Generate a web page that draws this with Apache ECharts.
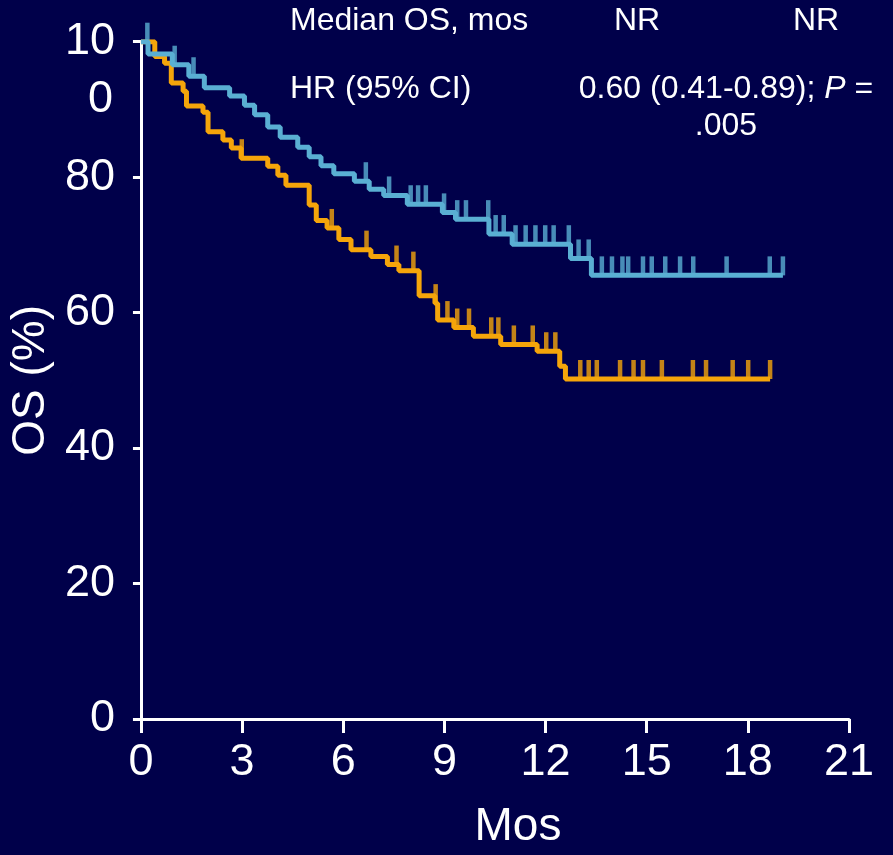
<!DOCTYPE html>
<html><head><meta charset="utf-8">
<script src="https://cdn.jsdelivr.net/npm/echarts@6/dist/echarts.min.js"></script>
<style>html,body{margin:0;padding:0;background:#00004A;}#c{width:893px;height:855px;}</style>
</head><body><div id="c"></div>
<script>
// ---- data ----
const xTickValues = [0, 3, 6, 9, 12, 15, 18, 21];
const yTickValues = [0, 20, 40, 60, 80, 100];

// Blue arm: times of drops (months) and survival level after each drop (%)
const blueTimes = [0, 0.21, 0.93, 1.42, 1.88, 2.63, 3.07, 3.37, 3.76, 4.13, 4.65, 4.99, 5.34, 5.72, 6.33, 6.77, 7.2, 7.9, 8.94, 9.33, 10.32, 11.01, 12.74, 13.36];
const blueSurv  = [100, 98.2, 96.6, 94.9, 93.2, 92.0, 90.6, 89.2, 87.4, 85.9, 84.4, 83.0, 81.7, 80.5, 79.4, 78.2, 77.3, 76.0, 74.8, 73.8, 71.6, 70.1, 68.0, 65.5];
const blueEnd = 19.04;
const blueCensor = [0.19, 1.0, 1.56, 6.67, 7.36, 8.0, 8.22, 8.45, 8.99, 9.38, 9.64, 10.3, 10.52, 10.76, 11.11, 11.41, 11.70, 11.99, 12.24, 12.69, 12.98, 13.28, 13.67, 13.97, 14.28, 14.45, 14.89, 15.15, 15.55, 15.99, 16.38, 17.37, 18.65, 19.04];

// Orange arm
const orangeTimes = [0, 0.41, 0.70, 0.90, 1.25, 1.35, 1.84, 1.99, 2.43, 2.68, 2.97, 3.76, 4.06, 4.30, 4.99, 5.20, 5.52, 5.87, 6.23, 6.82, 7.31, 7.65, 8.25, 8.72, 8.80, 9.28, 9.86, 10.67, 11.75, 12.42, 12.59];
const orangeSurv  = [100, 97.8, 96.8, 93.9, 92.7, 90.5, 89.6, 86.7, 85.5, 84.3, 82.8, 81.6, 80.3, 78.8, 75.9, 73.6, 72.5, 70.8, 69.3, 68.3, 67.1, 66.2, 62.5, 61.4, 58.9, 57.8, 56.5, 55.3, 54.3, 52.1, 50.2];
const orangeEnd = 18.66;
const orangeCensor = [2.99, 5.66, 6.69, 7.58, 8.08, 8.74, 9.09, 9.38, 9.73, 10.39, 10.6, 11.06, 11.62, 12.02, 12.29, 13.03, 13.28, 13.52, 14.21, 14.61, 14.89, 15.45, 16.37, 16.76, 17.55, 18.01, 18.66];

// ---- helpers ----
function stepData(times, surv, end) {
  const d = times.map((t, i) => [t, surv[i]]);
  d.push([end, surv[surv.length - 1]]);
  return d;
}
function levelAt(times, surv, t) {
  let s = surv[0];
  for (let i = 0; i < times.length; i++) if (times[i] <= t) s = surv[i];
  return s;
}
function censorData(times, surv, cens) {
  return cens.map(t => [t, levelAt(times, surv, t)]);
}

const FONT = '"Liberation Sans", Arial, sans-serif';
const BLUE = '#5AAFD3';
const ORANGE = '#F5A50A';
const WHITE = '#FFFFFF';

const chart = echarts.init(document.getElementById('c'), null, {renderer: 'canvas'});
chart.setOption({
  backgroundColor: '#00004A',
  animation: false,
  grid: {left: 139.5, right: 44, top: 41.7, bottom: 129, containLabel: false},
  xAxis: {
    type: 'value', min: xTickValues[0], max: xTickValues[xTickValues.length - 1],
    interval: xTickValues[1] - xTickValues[0],
    axisLine: {show: true, onZero: false, lineStyle: {color: WHITE, width: 3}},
    axisTick: {show: true, length: 14, lineStyle: {color: WHITE, width: 3}},
    axisLabel: {color: WHITE, fontSize: 45, fontFamily: FONT, margin: 21},
    splitLine: {show: false},
    name: 'Mos', nameLocation: 'middle', nameGap: 85,
    nameTextStyle: {color: WHITE, fontSize: 46, fontFamily: FONT, padding: [0, 0, 0, 46]}
  },
  yAxis: {
    type: 'value', min: yTickValues[0], max: yTickValues[yTickValues.length - 1],
    interval: yTickValues[1] - yTickValues[0],
    axisLine: {show: true, onZero: false, lineStyle: {color: WHITE, width: 3}},
    axisTick: {show: true, length: 8, lineStyle: {color: WHITE, width: 3}},
    axisLabel: {color: WHITE, fontSize: 45, fontFamily: FONT, margin: 26,
      formatter: v => (v === 100 ? '10' : String(v))},
    splitLine: {show: false},
    name: 'OS (%)', nameLocation: 'middle', nameGap: 75,
    nameTextStyle: {color: WHITE, fontSize: 46, fontFamily: FONT}
  },
  series: [
    {type: 'line', step: 'end', data: stepData(orangeTimes, orangeSurv, orangeEnd),
      showSymbol: false, silent: true, lineStyle: {color: ORANGE, width: 5}, z: 2},
    {type: 'scatter', data: censorData(orangeTimes, orangeSurv, orangeCensor),
      symbol: 'rect', symbolSize: [4.5, 19], symbolOffset: [0, -9.5], silent: true,
      itemStyle: {color: ORANGE}, z: 2},
    {type: 'line', step: 'end', data: stepData(blueTimes, blueSurv, blueEnd),
      showSymbol: false, silent: true, lineStyle: {color: BLUE, width: 5}, z: 3},
    {type: 'scatter', data: censorData(blueTimes, blueSurv, blueCensor),
      symbol: 'rect', symbolSize: [4.5, 19], symbolOffset: [0, -9.5], silent: true,
      itemStyle: {color: BLUE}, z: 3}
  ],
  graphic: [
    {type: 'text', x: 113, y: 100, style: {text: '0', fill: WHITE, font: '45px ' + FONT,
      align: 'right', verticalAlign: 'middle', textAlign: 'right', textVerticalAlign: 'middle'}},
    {type: 'text', x: 290, y: 21, style: {text: 'Median OS, mos', fill: WHITE, font: '32px ' + FONT,
      align: 'left', verticalAlign: 'middle', textAlign: 'left', textVerticalAlign: 'middle'}},
    {type: 'text', x: 637, y: 21, style: {text: 'NR', fill: WHITE, font: '32px ' + FONT,
      align: 'center', verticalAlign: 'middle', textAlign: 'center', textVerticalAlign: 'middle'}},
    {type: 'text', x: 816, y: 21, style: {text: 'NR', fill: WHITE, font: '32px ' + FONT,
      align: 'center', verticalAlign: 'middle', textAlign: 'center', textVerticalAlign: 'middle'}},
    {type: 'text', x: 290, y: 89, style: {text: 'HR (95% CI)', fill: WHITE, font: '32px ' + FONT,
      align: 'left', verticalAlign: 'middle', textAlign: 'left', textVerticalAlign: 'middle'}},
    {type: 'text', x: 726, y: 107.5, style: {
      text: '{n|0.60 (0.41-0.89); }{i|P}{n| =}\n{n|.005}',
      fill: WHITE, font: '32px ' + FONT, lineHeight: 37,
      align: 'center', verticalAlign: 'middle', textAlign: 'center', textVerticalAlign: 'middle',
      rich: {
        n: {fontSize: 32, fontFamily: FONT, fill: WHITE, color: WHITE, lineHeight: 37},
        i: {fontSize: 32, fontFamily: FONT, fontStyle: 'italic', fill: WHITE, color: WHITE, lineHeight: 37}
      }}}
  ]
});
</script></body></html>
